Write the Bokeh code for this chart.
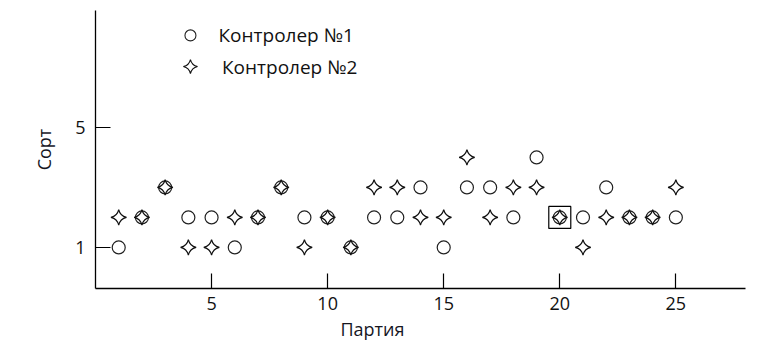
import math
from bokeh.plotting import figure
from bokeh.models import Range1d, FixedTicker, Title
from bokeh.core.properties import value
from bokeh.embed import file_html
from bokeh.resources import INLINE

batches = list(range(1, 26))
controller1 = [1, 2, 3, 2, 2, 1, 2, 3, 2, 2, 1, 2, 2, 3, 1, 3, 3, 2, 4, 2, 2, 3, 2, 2, 2]
controller2 = [2, 2, 3, 1, 1, 2, 2, 3, 1, 2, 1, 3, 3, 2, 2, 4, 2, 3, 3, 2, 1, 2, 2, 2, 3]
highlight_x = [20]
highlight_y = [2]
x_ticks = [5, 10, 15, 20, 25]
y_ticks = [1, 5]
legend_labels = ["Контролер №1", "Контролер №2"]
x_title = "Партия"
y_title = "Сорт"

# legend layout (positions in axis units, layout only)
LEG_MARK_X = 4.09
LEG_TEXT_X = [5.30, 5.45]
LEG_ROW_Y = [8.07, 7.03]

FONT = "Open Sans"

p = figure(width=762, height=351, output_backend="svg", toolbar_location=None,
           x_range=Range1d(0, 28), y_range=Range1d(-0.37, 8.9),
           min_border_left=95, min_border_right=17, min_border_top=10, min_border_bottom=63)
p.outline_line_color = None
p.grid.visible = False
p.background_fill_color = "white"
p.border_fill_color = "white"

for ax in (p.xaxis[0], p.yaxis[0]):
    ax.axis_line_color = "black"
    ax.axis_line_width = 1.3
    ax.major_tick_in = 15
    ax.major_tick_out = 0
    ax.minor_tick_in = 0
    ax.minor_tick_out = 0
    ax.major_tick_line_color = "black"
    ax.major_tick_line_width = 1.2
    ax.major_label_text_font = FONT
    ax.major_label_text_font_size = "18px"
    ax.major_label_text_color = "#111111"
    ax.axis_label_text_font = FONT
    ax.axis_label_text_font_size = "18px"
    ax.axis_label_text_font_style = "normal"
    ax.axis_label_text_color = "#16161f"

p.xaxis.ticker = FixedTicker(ticks=x_ticks)
p.yaxis.ticker = FixedTicker(ticks=y_ticks)
p.yaxis.axis_label = y_title
p.xaxis.major_label_standoff = 8
p.yaxis.major_label_standoff = 10
p.yaxis.axis_label_standoff = 16

# x-axis title, placed left of centre as in the reference
p.add_layout(Title(text=x_title, align="left", offset=245, standoff=4,
                   text_font=FONT, text_font_size="18px", text_font_style="normal",
                   text_color="#16161f"), "below")

p.scatter(batches, controller1, marker="circle", size=13,
          fill_color=None, line_color="#222222", line_width=1.2)
p.scatter(batches, controller2, marker="square_pin", size=11, angle=math.pi / 4,
          fill_color=None, line_color="#111111", line_width=1.2)
p.scatter(highlight_x, highlight_y, marker="square", size=22,
          fill_color=None, line_color="black", line_width=1.2)

# legend drawn manually (rotated star cannot be shown by Legend)
p.scatter([LEG_MARK_X], [LEG_ROW_Y[0]], marker="circle", size=11,
          fill_color=None, line_color="#222222", line_width=1.1)
p.scatter([LEG_MARK_X], [LEG_ROW_Y[1]], marker="square_pin", size=10, angle=math.pi / 4,
          fill_color=None, line_color="#111111", line_width=1.1)
p.text(LEG_TEXT_X, LEG_ROW_Y, text=legend_labels, text_font=value(FONT),
       text_font_size="19px", text_baseline="middle", text_align="left",
       text_color="#111111")

open("out.html", "w").write(file_html(p, INLINE))
